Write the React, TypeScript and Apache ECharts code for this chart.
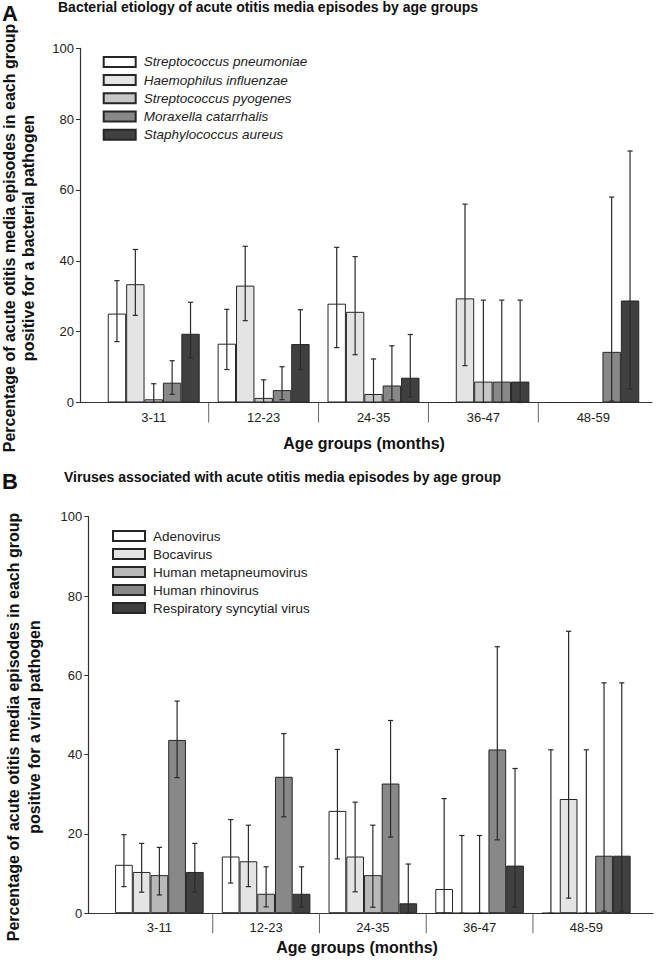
import React, { useEffect, useRef } from "react";
import * as echarts from "echarts";

const ageGroups = ["3-11", "12-23", "24-35", "36-47", "48-59"];
const yTicks = [0, 20, 40, 60, 80, 100];

const bacteria = [
  "Streptococcus pneumoniae",
  "Haemophilus influenzae",
  "Streptococcus pyogenes",
  "Moraxella catarrhalis",
  "Staphylococcus aureus",
];
const bacteriaColors = ["#ffffff", "#e4e4e4", "#c6c6c6", "#888888", "#404040"];
const spnValues = [25.1, 16.6, 27.9, 0, 0];
const spnLow = [17.2, 9.3, 15.5, null, null];
const spnHigh = [34.4, 26.3, 43.8, null, null];
const hinValues = [33.4, 33.0, 25.6, 29.4, 0];
const hinLow = [24.6, 23.1, 13.5, 10.4, null];
const hinHigh = [43.2, 44.1, 41.2, 56.0, null];
const spyValues = [0.9, 1.3, 2.4, 5.9, 0];
const spyLow = [0, 0, 0, 0, null];
const spyHigh = [5.3, 6.4, 12.3, 28.9, null];
const morValues = [5.6, 3.5, 4.8, 5.9, 14.3];
const morLow = [2.3, 0.8, 0.7, 0, 0.4];
const morHigh = [11.8, 10.1, 16.0, 28.9, 58.0];
const staValues = [19.4, 16.5, 7.0, 5.9, 28.8];
const staLow = [12.6, 9.3, 1.6, 0, 3.8];
const staHigh = [28.3, 26.2, 19.2, 28.9, 71.0];

const viruses = [
  "Adenovirus",
  "Bocavirus",
  "Human metapneumovirus",
  "Human rhinovirus",
  "Respiratory syncytial virus",
];
const virusColors = ["#ffffff", "#e4e4e4", "#b8b8b8", "#888888", "#404040"];
const adeValues = [12.2, 14.3, 25.8, 6.1, 0];
const adeLow = [6.7, 7.6, 13.7, 0, 0];
const adeHigh = [19.8, 23.6, 41.3, 28.9, 41.2];
const bocValues = [10.4, 13.1, 14.3, 0, 28.8];
const bocLow = [5.3, 6.7, 5.4, 0, 3.8];
const bocHigh = [17.6, 22.2, 28.0, 19.6, 71.1];
const hmpValues = [9.6, 4.9, 9.6, 0, 0];
const hmpLow = [4.6, 1.6, 1.5, 0, 0];
const hmpHigh = [16.6, 11.7, 22.2, 19.6, 41.2];
const hrvValues = [43.7, 34.4, 32.7, 41.3, 14.5];
const hrvLow = [34.2, 24.3, 19.2, 18.5, 0.5];
const hrvHigh = [53.5, 45.3, 48.6, 67.2, 58.1];
const rsvValues = [10.4, 4.9, 2.5, 12.0, 14.5];
const rsvLow = [5.3, 1.6, 0, 1.6, 0.5];
const rsvHigh = [17.6, 11.7, 12.4, 36.5, 58.1];

const FONT = "'Liberation Sans', Arial, sans-serif";
const GAP_A = 0.163;
const GAP_B = 0.17;

function errorSeries(
  axisIndex: number,
  lows: (number | null)[][],
  highs: (number | null)[][],
  gap: number
) {
  const data: number[][] = [];
  lows.forEach((lo, si) => {
    lo.forEach((l, ci) => {
      const h = highs[si][ci];
      if (l !== null && h !== null) data.push([ci, si, l, h]);
    });
  });
  return {
    type: "custom",
    xAxisIndex: axisIndex,
    yAxisIndex: axisIndex,
    z: 5,
    silent: true,
    encode: { x: 0, y: [2, 3] },
    data,
    renderItem: (params: any, api: any) => {
      const cat = api.value(0);
      const si = api.value(1);
      const lo = api.value(2);
      const hi = api.value(3);
      const catW = api.size([1, 0])[0];
      const barW = (catW * (1 - gap)) / 5;
      const pLo = api.coord([cat, lo]);
      const pHi = api.coord([cat, hi]);
      const x = pLo[0] + (si - 2) * barW;
      const cap = 2.6;
      const style = { stroke: "#2a2a2a", lineWidth: 1.2 };
      return {
        type: "group",
        children: [
          { type: "line", shape: { x1: x, y1: pHi[1], x2: x, y2: pLo[1] }, style },
          { type: "line", shape: { x1: x - cap, y1: pHi[1], x2: x + cap, y2: pHi[1] }, style },
          { type: "line", shape: { x1: x - cap, y1: pLo[1], x2: x + cap, y2: pLo[1] }, style },
        ],
      };
    },
  };
}

// vertical separators between age groups, placed on category boundaries
function separatorSeries(axisIndex: number) {
  const data = ageGroups.slice(1).map((_, i) => [i + 1, 0]);
  return {
    type: "custom",
    xAxisIndex: axisIndex,
    yAxisIndex: axisIndex,
    silent: true,
    clip: false,
    z: 1,
    encode: { x: 0, y: 1 },
    data,
    renderItem: (params: any, api: any) => {
      const c = api.coord([api.value(0), 0]);
      const w = api.size([1, 0])[0];
      const x = c[0] - w / 2;
      return {
        type: "line",
        shape: { x1: x, y1: c[1], x2: x, y2: c[1] + 20 },
        style: { stroke: "#666", lineWidth: 1 },
      };
    },
  };
}

function barSeries(names: string[], colors: string[], values: number[][], axisIndex: number, gap: number) {
  return names.map((name, i) => ({
    name,
    type: "bar",
    xAxisIndex: axisIndex,
    yAxisIndex: axisIndex,
    data: values[i],
    barGap: "0%",
    barCategoryGap: `${gap * 100}%`,
    itemStyle: { color: colors[i], borderColor: "#262626", borderWidth: 1 },
    emphasis: { disabled: true },
  }));
}

function catAxis(gridIndex: number) {
  return {
    type: "category",
    gridIndex,
    data: ageGroups,
    boundaryGap: true,
    axisLine: { show: false },
    axisTick: { show: false },
    axisLabel: { fontSize: 13, color: "#222", fontFamily: FONT, margin: 8 },
  };
}

function lineAxis(gridIndex: number) {
  return {
    type: "value",
    gridIndex,
    min: 0,
    max: 1,
    axisLine: { show: true, lineStyle: { color: "#333", width: 1.2 } },
    axisTick: { show: false },
    axisLabel: { show: false },
    splitLine: { show: false },
  };
}

function valAxis(gridIndex: number, offset: number) {
  return {
    type: "value",
    gridIndex,
    min: yTicks[0],
    max: yTicks[yTicks.length - 1],
    interval: 20,
    offset,
    axisLine: { show: true, lineStyle: { color: "#333", width: 1.2 } },
    axisTick: { show: true, length: 4, lineStyle: { color: "#333" } },
    axisLabel: { fontSize: 13, color: "#222", fontFamily: FONT, margin: 6 },
    splitLine: { show: false },
  };
}

function hiddenY(gridIndex: number) {
  return { type: "value", gridIndex, min: 0, max: 100, show: false };
}

export default function App() {
  const ref = useRef<HTMLDivElement>(null);
  useEffect(() => {
    document.body.style.margin = "0";
    if (!ref.current) return;
    const chart = echarts.init(ref.current, null, { renderer: "svg" });
    const legendBase = {
      orient: "vertical",
      itemWidth: 32,
      itemHeight: 10,
      itemGap: 4,
      padding: 0,
      icon: "rect",
      selectedMode: false,
    };
    const option: any = {
      animation: false,
      backgroundColor: "#ffffff",
      grid: [
        { left: 98.8, right: 17.8, top: 48.3, bottom: 559.5 },
        { left: 80, right: 14, top: 48.3, bottom: 559.5 },
        { left: 106, right: 26.3, top: 516.7, bottom: 48.8 },
        { left: 88.3, right: 13, top: 516.7, bottom: 48.8 },
      ],
      xAxis: [catAxis(0), lineAxis(1), catAxis(2), lineAxis(3)],
      yAxis: [valAxis(0, 18.8), hiddenY(1), valAxis(2, 17.7), hiddenY(3)],
      legend: [
        {
          ...legendBase,
          data: bacteria,
          left: 102.7,
          top: 54.8,
          textStyle: { fontSize: 13.5, fontStyle: "italic", color: "#222", fontFamily: FONT, padding: [0, 0, 0, 3], lineHeight: 14.2 },
        },
        {
          ...legendBase,
          data: viruses,
          left: 112,
          top: 529,
          textStyle: { fontSize: 13.5, color: "#222", fontFamily: FONT, padding: [0, 0, 0, 3], lineHeight: 14 },
        },
      ],
      series: [
        ...barSeries(bacteria, bacteriaColors, [spnValues, hinValues, spyValues, morValues, staValues], 0, GAP_A),
        errorSeries(0, [spnLow, hinLow, spyLow, morLow, staLow], [spnHigh, hinHigh, spyHigh, morHigh, staHigh], GAP_A),
        separatorSeries(0),
        ...barSeries(viruses, virusColors, [adeValues, bocValues, hmpValues, hrvValues, rsvValues], 2, GAP_B),
        errorSeries(2, [adeLow, bocLow, hmpLow, hrvLow, rsvLow], [adeHigh, bocHigh, hmpHigh, hrvHigh, rsvHigh], GAP_B),
        separatorSeries(2),
      ],
      graphic: [
        { type: "text", left: 2, top: 2, style: { text: "A", font: `bold 22px ${FONT}`, fill: "#111" } },
        { type: "text", left: 58, top: 0, style: { text: "Bacterial etiology of acute otitis media episodes by age groups", font: `bold 14px ${FONT}`, fill: "#111" } },
        { type: "text", left: 2, top: 470, style: { text: "B", font: `bold 22px ${FONT}`, fill: "#111" } },
        { type: "text", left: 64, top: 470, style: { text: "Viruses associated with acute otitis media episodes by age group", font: `bold 14px ${FONT}`, fill: "#111" } },
        {
          type: "text",
          x: 19,
          y: 238,
          rotation: Math.PI / 2,
          style: {
            text: "Percentage of acute otitis media episodes in each group\npositive for a bacterial pathogen",
            font: `bold 16px ${FONT}`,
            fill: "#111",
            align: "center",
            verticalAlign: "middle",
            lineHeight: 19,
          },
        },
        {
          type: "text",
          x: 24,
          y: 727,
          rotation: Math.PI / 2,
          style: {
            text: "Percentage of acute otitis media episodes in each group\npositive for a viral pathogen",
            font: `bold 16px ${FONT}`,
            fill: "#111",
            align: "center",
            verticalAlign: "middle",
            lineHeight: 21,
          },
        },
        {
          type: "text",
          x: 364,
          y: 443,
          style: { text: "Age groups (months)", font: `bold 16px ${FONT}`, fill: "#111", align: "center", verticalAlign: "middle" },
        },
        {
          type: "text",
          x: 357,
          y: 947,
          style: { text: "Age groups (months)", font: `bold 16px ${FONT}`, fill: "#111", align: "center", verticalAlign: "middle" },
        },
      ],
    };
    chart.setOption(option);
    return () => chart.dispose();
  }, []);
  return <div ref={ref} style={{ width: 666, height: 962 }} />;
}
